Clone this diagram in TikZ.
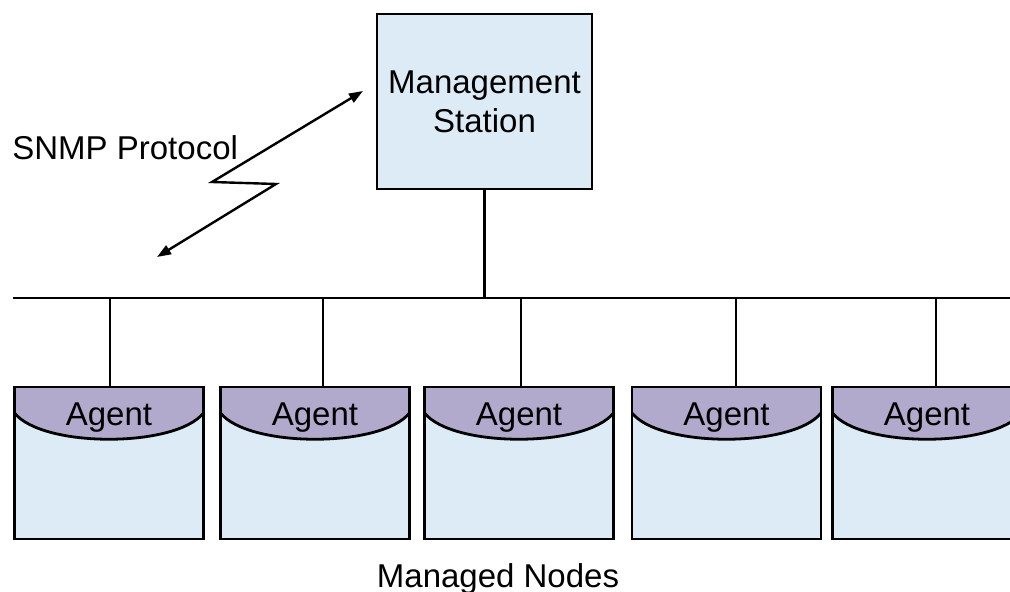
\documentclass[tikz,border=0pt]{standalone}
\usepackage{fontspec}
\setmainfont{Liberation Sans}
\usetikzlibrary{arrows.meta,positioning}
\definecolor{boxblue}{RGB}{221,235,247}
\definecolor{agentpurple}{RGB}{178,170,204}

\begin{document}
\begin{tikzpicture}[x=0.5pt,y=-0.5pt,line width=1.4pt,
  font=\fontsize{16.5}{19.5}\selectfont,
  stationbox/.style={draw,fill=boxblue,minimum width=107.5pt,minimum height=87.5pt,inner sep=0pt,align=center},
  agentbox/.style={draw,fill=boxblue,minimum width=94.5pt,minimum height=76pt,inner sep=0pt,
    path picture={
      \fill[agentpurple] (path picture bounding box.north west) -- ([yshift=-13pt]path picture bounding box.north west)
        .. controls +(28,35) and +(-28,35) .. ([yshift=-13pt]path picture bounding box.north east)
        -- (path picture bounding box.north east) -- cycle;
      \draw ([yshift=-13pt]path picture bounding box.north west)
        .. controls +(28,35) and +(-28,35) .. ([yshift=-13pt]path picture bounding box.north east);
    }}]
\useasboundingbox (0,0) rectangle (1010,592);
\clip (0,0) rectangle (1010,592);
% Station
\node[stationbox] (station) at (484.5,101.5) {Management\\Station};
% Bus
\coordinate (busL) at (13,298);
\coordinate (busR) at (1010,298);
\draw (busL) -- (busR);
\draw (station.south) -- (station.south |- busL);
% Agents
\foreach \i/\cx/\dx in {1/109/0.5pt, 2/315/4pt, 3/519/1pt, 4/726.5/4.75pt, 5/927/4.5pt} {
  \node[agentbox] (a\i) at (\cx,463) {};
  \node[anchor=base] (l\i) at ([yshift=-20pt]a\i.north) {Agent};
  \draw ([xshift=\dx]a\i.north) -- ([xshift=\dx]a\i.north |- busL);
}
% SNMP link
\coordinate (snmpA) at (157,257);
\coordinate (zigR) at (276,184);
\coordinate (zigL) at (212,182);
\coordinate (snmpB) at (363,91);
\draw[line width=1.2pt,{Triangle[length=7pt,width=5pt]}-{Triangle[length=7pt,width=5pt]}]
  (snmpA) -- (zigR) -- (zigL) -- (snmpB);
% Labels
\node[anchor=base west,inner sep=0pt] (snmp) at (11,160) {SNMP Protocol};
\node[anchor=base] (managed) at (498,587) {Managed Nodes};
\end{tikzpicture}
\end{document}
